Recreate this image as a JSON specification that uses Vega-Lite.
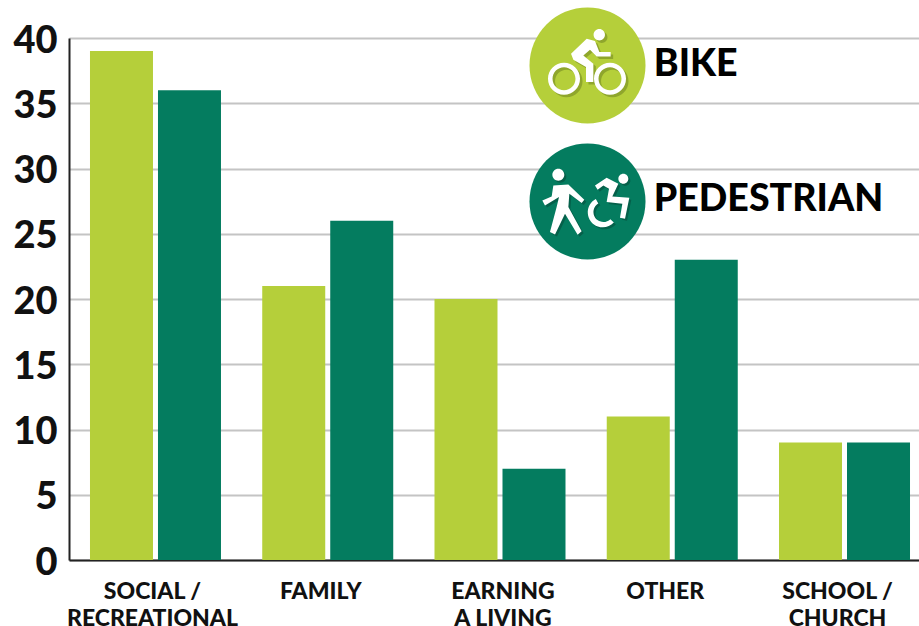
{"$schema":"https://vega.github.io/schema/vega-lite/v6.json","width":850,"height":522,"padding":{"left":69,"top":38,"right":0,"bottom":66},"autosize":"none","background":"white","config":{"view":{"stroke":null}},
"resolve":{"scale":{"x":"independent"}},
"layer":[
{"data":{"values":[
{"cat":"SOCIAL / RECREATIONAL","mode":"Bike","value":39},{"cat":"SOCIAL / RECREATIONAL","mode":"Pedestrian","value":36},
{"cat":"FAMILY","mode":"Bike","value":21},{"cat":"FAMILY","mode":"Pedestrian","value":26},
{"cat":"EARNING A LIVING","mode":"Bike","value":20},{"cat":"EARNING A LIVING","mode":"Pedestrian","value":7},
{"cat":"OTHER","mode":"Bike","value":11},{"cat":"OTHER","mode":"Pedestrian","value":23},
{"cat":"SCHOOL / CHURCH","mode":"Bike","value":9},{"cat":"SCHOOL / CHURCH","mode":"Pedestrian","value":9}]},
"mark":{"type":"bar"},"encoding":{
"x":{"field":"cat","type":"nominal","sort":null,"scale":{"paddingInner":0.2395,"paddingOuter":0.087,"align":0.7},"axis":{"title":null,"labelAngle":0,"labelFont":"Lato","labelFontWeight":900,"labelFontSize":23,"labelColor":"#111111","ticks":false,"domainColor":"#222222","domainWidth":2,"labelPadding":20,"labelLimit":300,"labelExpr":"split(replace(replace(datum.label,' / ',' /|'),'EARNING A','EARNING|A'),'|')","labelLineHeight":27,"labelOffset":{"expr":"datum.value==='SOCIAL / RECREATIONAL'?-3:datum.value==='EARNING A LIVING'?3:-7"}}},
"xOffset":{"field":"mode","type":"nominal","scale":{"paddingInner":0.0735}},
"y":{"field":"value","type":"quantitative","scale":{"domain":[0,40],"nice":false},"axis":{"title":null,"values":[0,5,10,15,20,25,30,35,40],"grid":true,"gridColor":"#c4c4c4","gridWidth":2,"labelFont":"Lato","labelFontWeight":900,"labelFontSize":38,"labelColor":"#111111","labelPadding":12,"labelOffset":3,"ticks":false,"domainColor":"#222222","domainWidth":2}},
"color":{"field":"mode","type":"nominal","scale":{"domain":["Bike","Pedestrian"],"range":["#b5cf3a","#047c5f"]},"legend":null}}},
{"data":{"name":"legendBike","values":[{"mode":"Bike","label":"BIKE","cx":0.61,"cy":37.9,"tx":0.688,"ty":37.93}]},
"layer":[
{"mark":{"type":"point","filled":true,"shape":"circle","size":13456,"opacity":1,"color":"#b5cf3a"},"encoding":{"x":{"field":"cx","type":"quantitative","scale":{"domain":[0,1],"nice":false,"zero":false},"axis":null},"y":{"field":"cy","type":"quantitative"}}},
{"mark":{"type":"point","filled":true,"opacity":1,"color":"#8fa62c","size":13456,"xOffset":2.5,"yOffset":2.5,"shape":"M-.284 -.201L-.014 -.46L.129 -.42L.204 -.23L.399 -.23L.399 -.155L.158 -.155L.043 -.27L-.072 -.172L.101 -.029L.101 .287L-.026 .287L-.026 .029L-.244 -.098ZM.105 -.529A.098 .098 0 1 0 .301 -.529A.098 .098 0 1 0 .105 -.529ZM-.681 .23A.276 .276 0 1 0 -.129 .23A.276 .276 0 1 0 -.681 .23ZM-.603 .23A.198 .198 0 1 1 -.207 .23A.198 .198 0 1 1 -.603 .23ZM.112 .23A.276 .276 0 1 0 .664 .23A.276 .276 0 1 0 .112 .23ZM.19 .23A.198 .198 0 1 1 .586 .23A.198 .198 0 1 1 .19 .23Z"},"encoding":{"x":{"field":"cx","type":"quantitative","scale":{"domain":[0,1],"nice":false,"zero":false},"axis":null},"y":{"field":"cy","type":"quantitative"}}},
{"mark":{"type":"point","filled":true,"opacity":1,"color":"#ffffff","size":13456,"shape":"M-.284 -.201L-.014 -.46L.129 -.42L.204 -.23L.399 -.23L.399 -.155L.158 -.155L.043 -.27L-.072 -.172L.101 -.029L.101 .287L-.026 .287L-.026 .029L-.244 -.098ZM.105 -.529A.098 .098 0 1 0 .301 -.529A.098 .098 0 1 0 .105 -.529ZM-.681 .23A.276 .276 0 1 0 -.129 .23A.276 .276 0 1 0 -.681 .23ZM-.603 .23A.198 .198 0 1 1 -.207 .23A.198 .198 0 1 1 -.603 .23ZM.112 .23A.276 .276 0 1 0 .664 .23A.276 .276 0 1 0 .112 .23ZM.19 .23A.198 .198 0 1 1 .586 .23A.198 .198 0 1 1 .19 .23Z"},"encoding":{"x":{"field":"cx","type":"quantitative","scale":{"domain":[0,1],"nice":false,"zero":false},"axis":null},"y":{"field":"cy","type":"quantitative"}}},
{"mark":{"type":"text","font":"Lato","fontWeight":900,"fontSize":37.5,"color":"#000000","align":"left","baseline":"middle"},"encoding":{"text":{"field":"label"},"x":{"field":"tx","type":"quantitative","scale":{"domain":[0,1],"nice":false,"zero":false},"axis":null},"y":{"field":"ty","type":"quantitative"}}}
]},
{"data":{"name":"legendPed","values":[{"mode":"Pedestrian","label":"PEDESTRIAN","cx":0.61,"cy":27.48,"tx":0.688,"ty":27.6}]},
"layer":[
{"mark":{"type":"point","filled":true,"shape":"circle","size":13456,"opacity":1,"color":"#047c5f"},"encoding":{"x":{"field":"cx","type":"quantitative","scale":{"domain":[0,1],"nice":false,"zero":false},"axis":null},"y":{"field":"cy","type":"quantitative"}}},
{"mark":{"type":"point","filled":true,"opacity":1,"color":"#05604a","size":13456,"xOffset":2,"yOffset":2,"shape":"M-.589 -.276L-.33 -.293L-.055 -.029L-.101 .029L-.313 -.132L-.33 .098L-.101 .517L-.17 .575L-.388 .213L-.56 .569L-.647 .529L-.532 .098L-.491 -.075L-.733 .069L-.779 -.017L-.618 -.086ZM-.606 -.46A.103 .103 0 1 0 -.4 -.46A.103 .103 0 1 0 -.606 -.46ZM.129 -.276L.33 -.408L.532 -.305L.428 -.086L.721 -.063L.647 .299L.56 .282L.601 .04L.33 .011L.371 -.218L.273 -.276L.175 -.201ZM.532 -.391A.086 .086 0 1 0 .704 -.391A.086 .086 0 1 0 .532 -.391ZM.143 -.04A.259 .259 0 1 0 .454 .365L.395 .306A.172 .172 0 1 1 .187 .035Z"},"encoding":{"x":{"field":"cx","type":"quantitative","scale":{"domain":[0,1],"nice":false,"zero":false},"axis":null},"y":{"field":"cy","type":"quantitative"}}},
{"mark":{"type":"point","filled":true,"opacity":1,"color":"#ffffff","size":13456,"shape":"M-.589 -.276L-.33 -.293L-.055 -.029L-.101 .029L-.313 -.132L-.33 .098L-.101 .517L-.17 .575L-.388 .213L-.56 .569L-.647 .529L-.532 .098L-.491 -.075L-.733 .069L-.779 -.017L-.618 -.086ZM-.606 -.46A.103 .103 0 1 0 -.4 -.46A.103 .103 0 1 0 -.606 -.46ZM.129 -.276L.33 -.408L.532 -.305L.428 -.086L.721 -.063L.647 .299L.56 .282L.601 .04L.33 .011L.371 -.218L.273 -.276L.175 -.201ZM.532 -.391A.086 .086 0 1 0 .704 -.391A.086 .086 0 1 0 .532 -.391ZM.143 -.04A.259 .259 0 1 0 .454 .365L.395 .306A.172 .172 0 1 1 .187 .035Z"},"encoding":{"x":{"field":"cx","type":"quantitative","scale":{"domain":[0,1],"nice":false,"zero":false},"axis":null},"y":{"field":"cy","type":"quantitative"}}},
{"mark":{"type":"text","font":"Lato","fontWeight":900,"fontSize":37.5,"color":"#000000","align":"left","baseline":"middle"},"encoding":{"text":{"field":"label"},"x":{"field":"tx","type":"quantitative","scale":{"domain":[0,1],"nice":false,"zero":false},"axis":null},"y":{"field":"ty","type":"quantitative"}}}
]}
]}
